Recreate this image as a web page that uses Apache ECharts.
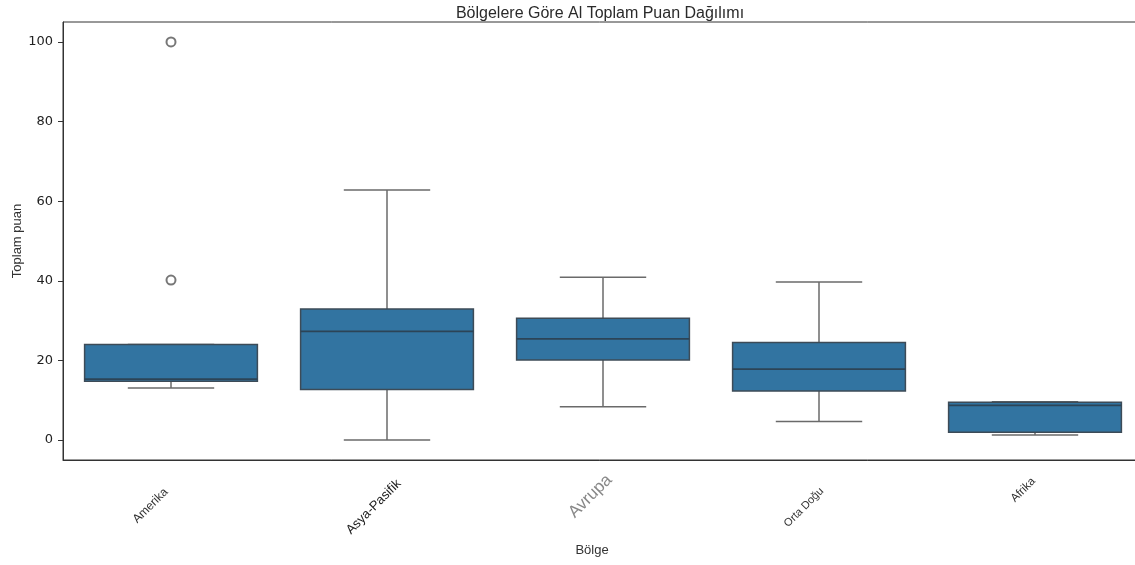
<!DOCTYPE html>
<html>
<head>
<meta charset="utf-8">
<script src="https://cdn.jsdelivr.net/npm/echarts@6/dist/echarts.min.js"></script>
<style>html,body{margin:0;padding:0;background:#fff}#c{width:1135px;height:565px}</style>
</head>
<body>
<div id="c"></div>
<script>
const categories = ['Amerika', 'Asya-Pasifik', 'Avrupa', 'Orta Doğu', 'Afrika'];
const lowWhisker = [13.1, 0.0, 8.4, 4.7, 1.3];
const q1 = [14.8, 12.7, 20.1, 12.3, 2.0];
const median = [15.3, 27.3, 25.4, 17.8, 8.7];
const q3 = [24.0, 32.9, 30.6, 24.5, 9.5];
const highWhisker = [24.0, 62.8, 40.9, 39.7, 9.6];
const outlierCat = ['Amerika', 'Amerika'];
const outlierVal = [40.2, 100.0];
const yTicks = [0, 20, 40, 60, 80, 100];

const labelStyles = {
  'Amerika': 'a', 'Asya-Pasifik': 'b', 'Avrupa': 'c', 'Orta Doğu': 'd', 'Afrika': 'e'
};

const boxData = categories.map((c, i) => [i, lowWhisker[i], q1[i], median[i], q3[i], highWhisker[i]]);
const outlierData = outlierCat.map((c, i) => [categories.indexOf(c), outlierVal[i]]);

const chart = echarts.init(document.getElementById('c'), null, {renderer: 'canvas'});
const whiskerColor = '#6a6a6a';
const edgeColor = '#3d4b57';
const lf = 'Liberation Sans';
chart.setOption({
  animation: false,
  backgroundColor: '#fff',
  title: {
    text: 'Bölgelere Göre Al Toplam Puan Dağılımı',
    left: 595, top: 1, textAlign: 'center',
    textStyle: {fontFamily: lf, fontSize: 16, fontWeight: 'normal', color: '#2a2a2a'}
  },
  grid: {left: 63, top: 22, width: 1080, height: 438, outerBoundsMode: 'none', containLabel: false,
    show: true, borderColor: '#333', borderWidth: 1, backgroundColor: 'transparent'},
  xAxis: {
    type: 'category', data: categories, boundaryGap: true,
    name: 'Bölge', nameLocation: 'middle', nameGap: 84, nameMoveOverlap: false,
    nameTextStyle: {fontFamily: lf, fontSize: 13, color: '#333', padding: [0, 22, 0, 0]},
    axisLine: {onZero: false, lineStyle: {color: '#333', width: 1}},
    axisTick: {alignWithLabel: true, length: 5, lineStyle: {color: '#333'}},
    axisLabel: {
      rotate: 45, margin: 4, interval: 0, hideOverlap: false,
      formatter: v => '{' + labelStyles[v] + '|' + v + '}',
      rich: {
        a: {fontFamily: lf, fontSize: 12, color: '#333', padding: [30, 22, 0, 0]},
        b: {fontFamily: lf, fontSize: 13, color: '#222', padding: [42, 4, 0, 0]},
        c: {fontFamily: lf, fontSize: 17, color: '#888', padding: [28, 5, 0, 0]},
        d: {fontFamily: lf, fontSize: 11, color: '#333', padding: [40, 16, 0, 0]},
        e: {fontFamily: lf, fontSize: 11.5, color: '#333', padding: [20, 12, 0, 0]}
      }
    },
    splitLine: {show: false}
  },
  yAxis: {
    type: 'value', min: -5, max: 105,
    name: 'Toplam puan', nameLocation: 'middle', nameGap: 39, nameMoveOverlap: false,
    nameTextStyle: {fontFamily: lf, fontSize: 13, color: '#333'},
    axisLine: {show: true, onZero: false, lineStyle: {color: '#333', width: 1}},
    axisTick: {show: true, length: 5, customValues: yTicks, lineStyle: {color: '#333'}},
    axisLabel: {customValues: yTicks, margin: 10, fontFamily: 'DejaVu Sans', fontSize: 13, color: '#222'},
    splitLine: {show: false}
  },
  series: [
    {
      type: 'custom',
      data: boxData,
      encode: {x: 0, y: [1, 2, 3, 4, 5]},
      renderItem: function (params, api) {
        const i = api.value(0);
        const band = api.size([1, 0])[0];
        const bw = band * 0.8, cw = band * 0.4;
        const pLow = api.coord([i, api.value(1)]);
        const pQ1 = api.coord([i, api.value(2)]);
        const pMed = api.coord([i, api.value(3)]);
        const pQ3 = api.coord([i, api.value(4)]);
        const pHigh = api.coord([i, api.value(5)]);
        const x = pMed[0];
        const wStyle = {stroke: whiskerColor, lineWidth: 1.5};
        return {
          type: 'group',
          children: [
            {type: 'line', shape: {x1: x, y1: pQ1[1], x2: x, y2: pLow[1]}, style: wStyle},
            {type: 'line', shape: {x1: x, y1: pQ3[1], x2: x, y2: pHigh[1]}, style: wStyle},
            {type: 'line', shape: {x1: x - cw / 2, y1: pLow[1], x2: x + cw / 2, y2: pLow[1]}, style: wStyle},
            {type: 'line', shape: {x1: x - cw / 2, y1: pHigh[1], x2: x + cw / 2, y2: pHigh[1]}, style: wStyle},
            {type: 'rect', shape: {x: x - bw / 2, y: pQ3[1], width: bw, height: pQ1[1] - pQ3[1]},
              style: {fill: '#3274a1', stroke: edgeColor, lineWidth: 1.5}},
            {type: 'line', shape: {x1: x - bw / 2, y1: pMed[1], x2: x + bw / 2, y2: pMed[1]},
              style: {stroke: '#2c4457', lineWidth: 1.8}}
          ]
        };
      }
    },
    {
      type: 'scatter',
      data: outlierData,
      symbol: 'emptyCircle', symbolSize: 9,
      itemStyle: {color: '#555', borderWidth: 1.4}
    }
  ]
});
</script>
</body>
</html>
